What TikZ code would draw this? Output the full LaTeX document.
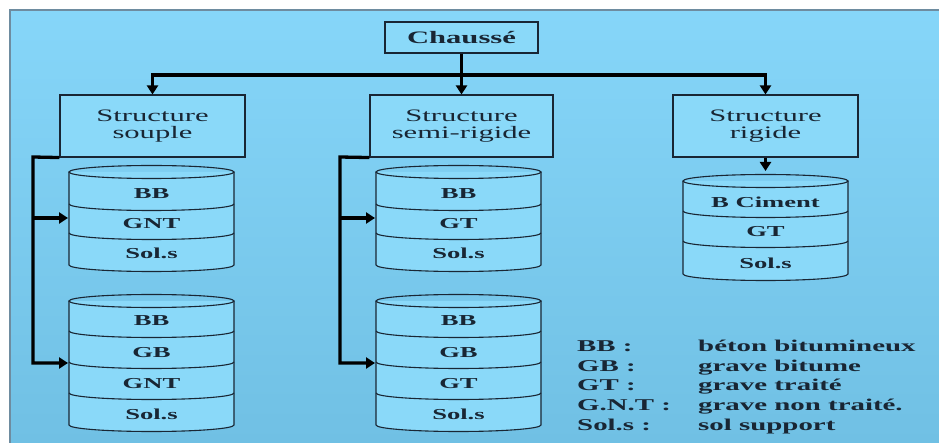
\documentclass[tikz,border=0pt]{standalone}
\usepackage{fontspec}
\setmainfont{Liberation Serif}[FakeStretch=1.75]
\usetikzlibrary{arrows.meta}
\definecolor{bgtop}{RGB}{134,214,249}
\definecolor{bgbot}{RGB}{112,192,228}
\definecolor{boxfill}{RGB}{138,217,249}
\definecolor{ink}{RGB}{25,38,52}
\definecolor{frame}{RGB}{110,140,160}
\newcommand\mycyl[5]{% #1 center x, #2 rx, #3 top y, #4 dividers, #5 bottom y
  \fill[boxfill] (#1-#2,#3) -- (#1-#2,#5) arc[start angle=180,end angle=360,x radius=#2pt,y radius=6.5pt] -- (#1+#2,#3) -- cycle;
  \draw[thinline] (#1,#3) ellipse[x radius=#2pt,y radius=6.5pt];
  \draw[thinline] (#1-#2,#3) -- (#1-#2,#5) arc[start angle=180,end angle=360,x radius=#2pt,y radius=6.5pt] -- (#1+#2,#3);
  \foreach \d in {#4}{\draw[thinline] (#1-#2,\d) arc[start angle=180,end angle=360,x radius=#2pt,y radius=6.5pt];}
}
\begin{document}
\begin{tikzpicture}[x=1pt,y=-1pt,
  thinline/.style={draw=ink,line width=1.1pt},
  boxnode/.style={draw=ink,line width=1.1pt,fill=boxfill,minimum height=62pt,inner sep=0pt,align=center,text=ink,font=\fontsize{17.5}{17.5}\selectfont},
  topnode/.style={draw=ink,line width=1.1pt,fill=boxfill,minimum width=153pt,minimum height=31pt,inner sep=0pt,text=ink,font=\fontsize{17.5}{17.5}\selectfont\bfseries},
  cyllab/.style={inner sep=0pt,text=ink,font=\fontsize{15.2}{16}\selectfont\bfseries},
  leg/.style={inner sep=0pt,anchor=base west,text=ink,font=\fontsize{16.5}{17}\selectfont\bfseries},
  conn/.style={draw=black,line width=3.3pt},
  tip/.style={-{Triangle[width=11pt,length=9pt]}}
]
\useasboundingbox (0,0) rectangle (939,443);
\fill[white] (0,0) rectangle (939,443);
\shade[top color=bgtop,bottom color=bgbot] (10,10) rectangle (939,443);
\draw[frame,line width=1.5pt] (10,443) -- (10,10) -- (939,10);

% boxes
\node[topnode] (ch) at (461.5,37.5) {Chaussé};
\node[boxnode,minimum width=185pt] (souple) at (152.5,126) {Structure\\souple};
\node[boxnode,minimum width=183pt] (semi) at (461.5,126) {Structure\\semi-rigide};
\node[boxnode,minimum width=185pt] (rigide) at (765.5,126) {Structure\\rigide};

% cylinders
\mycyl{151.5}{82.5}{172}{204,233}{265}
\mycyl{151.5}{82.5}{301}{331,362,393}{425}
\mycyl{458.5}{82.5}{172}{204,233}{265}
\mycyl{458.5}{82.5}{301}{331,362,393}{425}
\mycyl{765.5}{82.5}{181}{211,241}{274}

\node[cyllab] (a1) at (151.5,194) {BB};
\node[cyllab] (a2) at (151.5,224) {GNT};
\node[cyllab] (a3) at (151.5,253) {Sol.s};
\node[cyllab] (b1) at (151.5,321) {BB};
\node[cyllab] (b2) at (151.5,352.5) {GB};
\node[cyllab] (b3) at (151.5,383.5) {GNT};
\node[cyllab] (b4) at (151.5,414.5) {Sol.s};
\node[cyllab] (c1) at (458.5,194) {BB};
\node[cyllab] (c2) at (458.5,224) {GT};
\node[cyllab] (c3) at (458.5,253) {Sol.s};
\node[cyllab] (d1) at (458.5,321) {BB};
\node[cyllab] (d2) at (458.5,352.5) {GB};
\node[cyllab] (d3) at (458.5,383.5) {GT};
\node[cyllab] (d4) at (458.5,414.5) {Sol.s};
\node[cyllab] (e1) at (765.5,202) {B Ciment};
\node[cyllab] (e2) at (765.5,232) {GT};
\node[cyllab] (e3) at (765.5,263) {Sol.s};

% connectors
\coordinate (hl) at (152.5,75);
\coordinate (hr) at (765.5,75);
\draw[conn,{Triangle[width=11pt,length=9pt]}-{Triangle[width=11pt,length=9pt]}] (souple.north) -- (hl) -- (hr) -- (rigide.north);
\draw[conn,tip] (ch.south) -- (semi.north);
\coordinate (rc) at (765.5,171);
\draw[conn,tip] (rigide.south) -- (rc);

\coordinate (sA) at (33,157);
\coordinate (s1) at (68,218);
\coordinate (s2) at (68,363);
\draw[conn,tip] (souple.south west) -- (sA) -- (sA |- s2) -- (s2);
\draw[conn,tip] (sA |- s1) -- (s1);

\coordinate (tA) at (340,157);
\coordinate (t1) at (375,218);
\coordinate (t2) at (375,363);
\draw[conn,tip] (semi.south west) -- (tA) -- (tA |- t2) -- (t2);
\draw[conn,tip] (tA |- t1) -- (t1);

% legend
\node[leg] (l1) at (577,351.5) {BB :};
\node[leg] (l2) at (577,371) {GB :};
\node[leg] (l3) at (577,390.5) {GT :};
\node[leg] (l4) at (577,410.5) {G.N.T :};
\node[leg] (l5) at (577,430) {Sol.s :};
\node[leg] (m1) at (698,351.5) {béton bitumineux};
\node[leg] (m2) at (698,371) {grave bitume};
\node[leg] (m3) at (698,390.5) {grave traité};
\node[leg] (m4) at (698,410.5) {grave non traité.};
\node[leg] (m5) at (698,430) {sol support};
\end{tikzpicture}
\end{document}
